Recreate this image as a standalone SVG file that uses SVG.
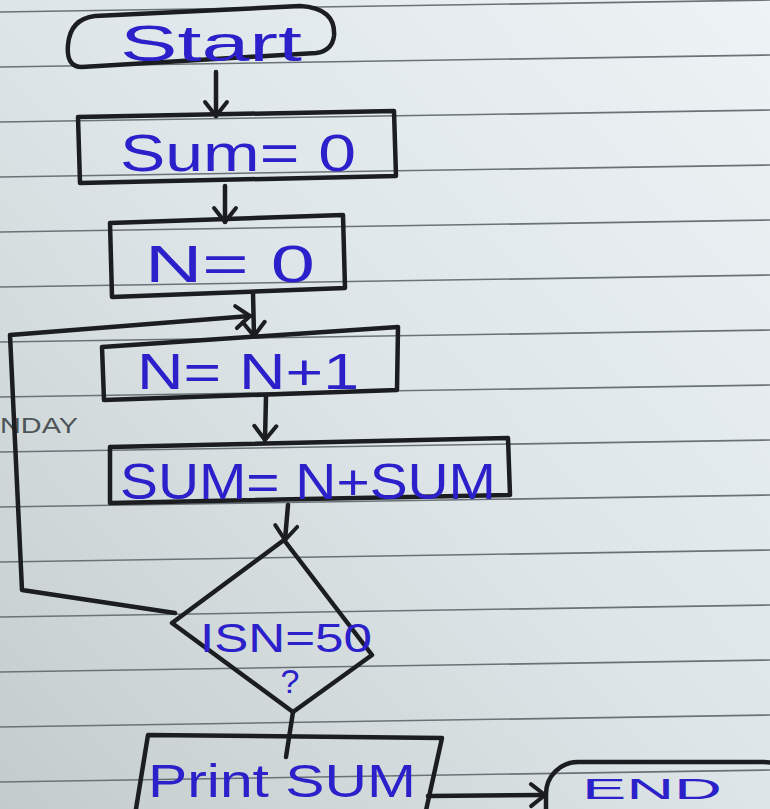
<svg xmlns="http://www.w3.org/2000/svg" width="770" height="809" viewBox="0 0 770 809">
  <defs>
    <linearGradient id="paper" x1="1" y1="0" x2="0" y2="1">
      <stop offset="0" stop-color="#eef3f5"/>
      <stop offset="0.5" stop-color="#dde5e8"/>
      <stop offset="1" stop-color="#c4cccb"/>
    </linearGradient>
    <marker id="chev" markerUnits="userSpaceOnUse" markerWidth="40" markerHeight="40" viewBox="-20 -20 40 40" refX="0" refY="0" orient="auto">
      <path d="M -14 -11 L 0 0 L -14 11" fill="none" stroke="#1b1d21" stroke-width="4" stroke-linecap="round" stroke-linejoin="round"/>
    </marker>
  </defs>
  <style>
    .rule { stroke: #6a7277; stroke-width: 1.6; }
    .shape { fill: none; stroke: #1b1d21; stroke-width: 4.5; stroke-linejoin: round; stroke-linecap: round; }
    .edge { fill: none; stroke: #1b1d21; stroke-width: 4.5; stroke-linecap: round; stroke-linejoin: round; }
    .ink { fill: #2b20c9; font-family: "Liberation Sans", "DejaVu Sans", sans-serif; }
    .print { fill: #4d5458; font-family: "Liberation Sans", "DejaVu Sans", sans-serif; font-size: 22px; }
  </style>

  <!-- ruled notebook paper -->
  <rect x="0" y="0" width="770" height="809" fill="url(#paper)"/>
  <g id="rules">
    <line class="rule" x1="0" y1="12" x2="770" y2="0"/>
    <line class="rule" x1="0" y1="67" x2="770" y2="55"/>
    <line class="rule" x1="0" y1="122" x2="770" y2="110"/>
    <line class="rule" x1="0" y1="177" x2="770" y2="165"/>
    <line class="rule" x1="0" y1="232" x2="770" y2="220"/>
    <line class="rule" x1="0" y1="287" x2="770" y2="275"/>
    <line class="rule" x1="0" y1="342" x2="770" y2="330"/>
    <line class="rule" x1="0" y1="397" x2="770" y2="385"/>
    <line class="rule" x1="0" y1="452" x2="770" y2="440"/>
    <line class="rule" x1="0" y1="507" x2="770" y2="495"/>
    <line class="rule" x1="0" y1="562" x2="770" y2="550"/>
    <line class="rule" x1="0" y1="617" x2="770" y2="605"/>
    <line class="rule" x1="0" y1="672" x2="770" y2="660"/>
    <line class="rule" x1="0" y1="727" x2="770" y2="715"/>
    <line class="rule" x1="0" y1="782" x2="770" y2="770"/>
  </g>
  <text class="print" x="0" y="433" textLength="78" lengthAdjust="spacingAndGlyphs">NDAY</text>

  <!-- connectors -->
  <g id="connectors">
    <path class="edge" d="M 216 72 L 216 116" marker-end="url(#chev)"/>
    <path class="edge" d="M 225 186 L 225 222" marker-end="url(#chev)"/>
    <path class="edge" d="M 253 292 L 254 336" marker-end="url(#chev)"/>
    <path class="edge" d="M 175 613 L 22 590 L 10 335 L 250 316" marker-end="url(#chev)"/>
    <path class="edge" d="M 266 396 L 265 440" marker-end="url(#chev)"/>
    <path class="edge" d="M 288 505 L 285 540" marker-end="url(#chev)"/>
    <path class="edge" d="M 293 712 L 286 757"/>
    <path class="edge" d="M 428 796 L 545 795" marker-end="url(#chev)"/>
  </g>

  <!-- nodes -->
  <g id="start">
    <path class="shape" d="M 95 16 L 300 6 Q 336 8 334 36 Q 332 51 316 53 L 82 67 Q 66 67 68 45 Q 70 19 95 16 Z"/>
    <text class="ink" x="120" y="61" font-size="50" textLength="182" lengthAdjust="spacingAndGlyphs">Start</text>
  </g>
  <g id="sum0">
    <path class="shape" d="M 78 117 L 394 111 L 396 176 L 80 183 Z"/>
    <text class="ink" x="120" y="171" font-size="52" textLength="236" lengthAdjust="spacingAndGlyphs">Sum= 0</text>
  </g>
  <g id="n0">
    <path class="shape" d="M 110 223 L 343 215 L 345 288 L 112 297 Z"/>
    <text class="ink" x="145" y="282" font-size="52" textLength="170" lengthAdjust="spacingAndGlyphs">N= 0</text>
  </g>
  <g id="ninc">
    <path class="shape" d="M 102 347 L 398 327 L 397 390 L 104 400 Z"/>
    <text class="ink" x="137" y="389" font-size="50" textLength="222" lengthAdjust="spacingAndGlyphs">N= N+1</text>
  </g>
  <g id="sumadd">
    <path class="shape" d="M 110 447 L 508 438 L 510 495 L 110 503 Z"/>
    <text class="ink" x="120" y="499" font-size="50" textLength="376" lengthAdjust="spacingAndGlyphs">SUM= N+SUM</text>
  </g>
  <g id="decision">
    <path class="shape" d="M 284 540 L 372 655 L 293 712 L 172 623 Z"/>
    <text class="ink" x="200" y="652" font-size="40" textLength="172" lengthAdjust="spacingAndGlyphs">ISN=50</text>
    <text class="ink" x="290" y="693" font-size="34" text-anchor="middle">?</text>
  </g>
  <g id="print">
    <path class="shape" d="M 148 735 L 442 738 L 425 815 L 135 815 Z"/>
    <text class="ink" x="148" y="797" font-size="46" textLength="268" lengthAdjust="spacingAndGlyphs">Print SUM</text>
  </g>
  <g id="end">
    <rect class="shape" x="546" y="762" width="250" height="90" rx="32"/>
    <text class="ink" x="582" y="799" font-size="30" textLength="140" lengthAdjust="spacingAndGlyphs">END</text>
  </g>
</svg>
